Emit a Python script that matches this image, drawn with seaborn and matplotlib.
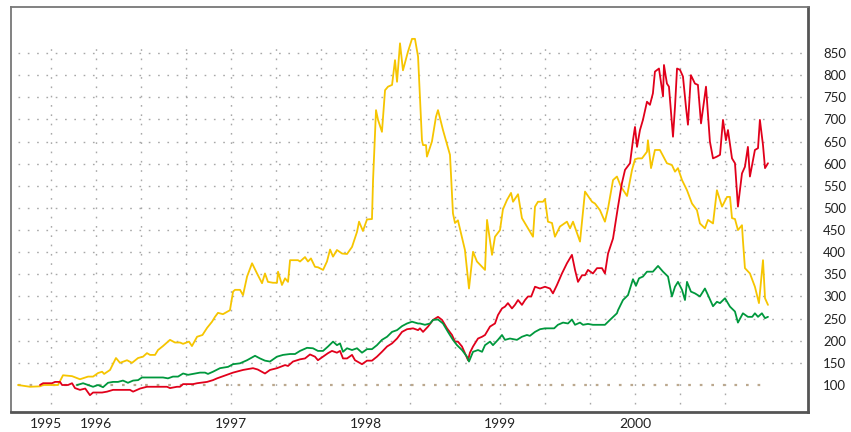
import numpy as np
import pandas as pd
import matplotlib
matplotlib.use('Agg')
import matplotlib.pyplot as plt
import seaborn as sns

# ### data (index, start = 100), x in fractional years
yellow_t = [1995.421, 1995.510, 1995.584, 1995.607, 1995.718, 1995.755, 1995.822, 1995.881, 1995.941, 1995.978,
            1996.015, 1996.045, 1996.060, 1996.104, 1996.148, 1996.178, 1996.230, 1996.267, 1996.312, 1996.349,
            1996.378, 1996.401, 1996.438, 1996.460, 1996.497, 1996.549, 1996.586, 1996.623, 1996.646, 1996.690,
            1996.712, 1996.750, 1996.790, 1996.824, 1996.861, 1996.883, 1996.905, 1996.942, 1996.994, 1997.017,
            1997.032, 1997.069, 1997.091, 1997.121, 1997.158, 1997.195, 1997.232, 1997.254, 1997.276, 1997.313,
            1997.343, 1997.351, 1997.380, 1997.403, 1997.425, 1997.440, 1997.499, 1997.514, 1997.551, 1997.573,
            1997.595, 1997.625, 1997.647, 1997.685, 1997.714, 1997.737, 1997.759, 1997.788, 1997.826, 1997.863,
            1997.900, 1997.937, 1997.952, 1997.981, 1998.011, 1998.048, 1998.056, 1998.078, 1998.093, 1998.122,
            1998.145, 1998.167, 1998.197, 1998.219, 1998.234, 1998.256, 1998.278, 1998.315, 1998.345, 1998.367,
            1998.390, 1998.419, 1998.427, 1998.449, 1998.456, 1998.493, 1998.523, 1998.538, 1998.575, 1998.627,
            1998.649, 1998.664, 1998.686, 1998.738, 1998.768, 1998.798, 1998.827, 1998.887, 1998.902, 1998.939,
            1998.961, 1998.998, 1999.020, 1999.050, 1999.080, 1999.095, 1999.132, 1999.161, 1999.198, 1999.243,
            1999.258, 1999.280, 1999.317, 1999.332, 1999.354, 1999.384, 1999.406, 1999.443, 1999.495, 1999.518,
            1999.540, 1999.592, 1999.629, 1999.681, 1999.703, 1999.740, 1999.777, 1999.800, 1999.837, 1999.866,
            1999.896, 1999.941, 1999.978, 2000.000, 2000.022, 2000.052, 2000.089, 2000.096, 2000.119, 2000.148,
            2000.185, 2000.237, 2000.274, 2000.297, 2000.319, 2000.349, 2000.386, 2000.423, 2000.460, 2000.482,
            2000.519, 2000.542, 2000.579, 2000.608, 2000.646, 2000.683, 2000.705, 2000.720, 2000.742, 2000.764,
            2000.794, 2000.801, 2000.816, 2000.853, 2000.890, 2000.920, 2000.950, 2000.965, 2000.987]
yellow_v = [100, 96, 97, 100, 100, 122, 120, 113, 119, 119,
            127, 130, 125, 134, 161, 150, 156, 150, 161, 164,
            172, 168, 168, 179, 188, 202, 196, 196, 193, 198,
            188, 209, 213, 229, 243, 254, 263, 260, 269, 311,
            315, 315, 303, 345, 375, 352, 330, 352, 333, 331,
            331, 356, 326, 341, 333, 382, 382, 379, 389, 379,
            386, 367, 366, 360, 379, 406, 390, 405, 397, 396,
            412, 446, 469, 448, 474, 475, 563, 721, 699, 672,
            766, 774, 778, 834, 785, 872, 811, 853, 882, 882,
            842, 653, 642, 642, 616, 650, 706, 721, 676, 620,
            488, 466, 472, 405, 318, 401, 379, 360, 473, 394,
            435, 450, 497, 518, 534, 514, 531, 477, 458, 435,
            503, 514, 514, 520, 469, 466, 435, 458, 469, 454,
            469, 424, 537, 514, 510, 495, 469, 499, 563, 571,
            548, 527, 586, 610, 612, 612, 627, 653, 590, 631,
            631, 601, 597, 582, 590, 563, 540, 510, 495, 465,
            454, 473, 465, 540, 503, 525, 525, 477, 475, 450,
            461, 427, 364, 352, 322, 285, 382, 296, 281]

red_t = [1995.584, 1995.607, 1995.673, 1995.696, 1995.733, 1995.748, 1995.792, 1995.822, 1995.844, 1995.881,
         1995.920, 1995.955, 1995.978, 1996.045, 1996.082, 1996.126, 1996.178, 1996.252, 1996.275, 1996.327,
         1996.378, 1996.423, 1996.527, 1996.549, 1996.601, 1996.623, 1996.646, 1996.698, 1996.720, 1996.750,
         1996.775, 1996.824, 1996.868, 1996.898, 1996.972, 1997.017, 1997.091, 1997.165, 1997.200, 1997.254,
         1997.291, 1997.343, 1997.403, 1997.425, 1997.462, 1997.514, 1997.551, 1997.588, 1997.625, 1997.647,
         1997.685, 1997.722, 1997.751, 1997.788, 1997.811, 1997.833, 1997.863, 1997.900, 1997.922, 1997.974,
         1998.011, 1998.048, 1998.085, 1998.122, 1998.160, 1998.197, 1998.234, 1998.271, 1998.308, 1998.353,
         1998.390, 1998.404, 1998.427, 1998.464, 1998.501, 1998.538, 1998.568, 1998.605, 1998.642, 1998.664,
         1998.686, 1998.716, 1998.738, 1998.761, 1998.775, 1998.798, 1998.835, 1998.865, 1998.887, 1998.924,
         1998.961, 1998.983, 1999.013, 1999.035, 1999.057, 1999.087, 1999.109, 1999.132, 1999.161, 1999.184,
         1999.206, 1999.230, 1999.258, 1999.295, 1999.332, 1999.369, 1999.391, 1999.421, 1999.458, 1999.495,
         1999.532, 1999.555, 1999.577, 1999.607, 1999.629, 1999.651, 1999.688, 1999.718, 1999.755, 1999.777,
         1999.800, 1999.837, 1999.874, 1999.903, 1999.926, 1999.963, 1999.985, 2000.000, 2000.015, 2000.037,
         2000.059, 2000.089, 2000.111, 2000.133, 2000.148, 2000.178, 2000.208, 2000.215, 2000.237, 2000.252,
         2000.282, 2000.297, 2000.312, 2000.334, 2000.356, 2000.378, 2000.393, 2000.415, 2000.445, 2000.467,
         2000.490, 2000.527, 2000.556, 2000.579, 2000.608, 2000.631, 2000.653, 2000.675, 2000.690, 2000.720,
         2000.742, 2000.764, 2000.794, 2000.816, 2000.838, 2000.853, 2000.890, 2000.913, 2000.927, 2000.950,
         2000.965, 2000.987]
red_v = [100, 104, 104, 107, 107, 100, 100, 104, 93, 89,
         92, 77, 83, 83, 85, 89, 89, 89, 85, 92,
         96, 96, 96, 93, 96, 96, 102, 102, 102, 104,
         105, 107, 111, 115, 123, 128, 134, 138, 135, 126,
         134, 138, 145, 143, 153, 158, 160, 169, 164, 156,
         164, 172, 177, 173, 177, 160, 160, 168, 156, 147,
         155, 155, 164, 175, 187, 194, 205, 220, 226, 228,
         224, 228, 220, 232, 247, 254, 247, 228, 213, 198,
         198, 187, 172, 156, 173, 187, 205, 209, 213, 232,
         239, 258, 273, 277, 285, 273, 281, 292, 281, 292,
         300, 300, 322, 318, 322, 318, 307, 326, 352, 375,
         394, 360, 333, 348, 348, 360, 352, 364, 364, 352,
         397, 431, 503, 556, 586, 601, 653, 683, 638, 676,
         699, 740, 733, 759, 808, 815, 752, 823, 781, 774,
         661, 729, 815, 812, 797, 729, 688, 800, 781, 778,
         691, 774, 650, 612, 616, 620, 699, 653, 676, 612,
         601, 503, 578, 593, 638, 571, 631, 635, 699, 642,
         590, 601]

green_t = [1995.859, 1995.904, 1995.978, 1996.015, 1996.052, 1996.089, 1996.126, 1996.163, 1996.200, 1996.237,
           1996.275, 1996.312, 1996.341, 1996.401, 1996.497, 1996.534, 1996.571, 1996.609, 1996.646, 1996.683,
           1996.720, 1996.772, 1996.809, 1996.831, 1996.868, 1996.920, 1996.980, 1997.017, 1997.069, 1997.121,
           1997.180, 1997.217, 1997.254, 1997.291, 1997.343, 1997.388, 1997.440, 1997.477, 1997.514, 1997.566,
           1997.610, 1997.647, 1997.685, 1997.722, 1997.759, 1997.788, 1997.811, 1997.833, 1997.863, 1997.900,
           1997.937, 1997.974, 1998.011, 1998.048, 1998.085, 1998.122, 1998.160, 1998.197, 1998.234, 1998.271,
           1998.308, 1998.345, 1998.390, 1998.404, 1998.441, 1998.479, 1998.501, 1998.538, 1998.575, 1998.612,
           1998.649, 1998.679, 1998.716, 1998.753, 1998.768, 1998.798, 1998.835, 1998.865, 1998.887, 1998.924,
           1998.946, 1998.983, 1999.013, 1999.035, 1999.072, 1999.124, 1999.161, 1999.198, 1999.220, 1999.258,
           1999.295, 1999.332, 1999.369, 1999.400, 1999.428, 1999.466, 1999.503, 1999.532, 1999.555, 1999.592,
           1999.614, 1999.651, 1999.688, 1999.740, 1999.777, 1999.814, 1999.866, 1999.874, 1999.911, 1999.948,
           1999.985, 2000.007, 2000.030, 2000.059, 2000.089, 2000.133, 2000.171, 2000.208, 2000.245, 2000.274,
           2000.297, 2000.319, 2000.349, 2000.371, 2000.386, 2000.415, 2000.445, 2000.482, 2000.519, 2000.542,
           2000.579, 2000.608, 2000.631, 2000.668, 2000.705, 2000.742, 2000.764, 2000.801, 2000.838, 2000.870,
           2000.890, 2000.913, 2000.942, 2000.965, 2000.987]
green_v = [100, 104, 96, 100, 95, 105, 107, 107, 110, 105,
           110, 111, 117, 117, 117, 115, 119, 119, 126, 123,
           125, 128, 128, 125, 130, 138, 141, 147, 149, 156,
           166, 160, 155, 153, 164, 168, 170, 170, 177, 184,
           183, 177, 177, 187, 198, 190, 194, 175, 183, 179,
           183, 173, 181, 181, 190, 202, 209, 220, 224, 233,
           239, 243, 239, 239, 236, 239, 247, 248, 239, 220,
           202, 190, 179, 164, 153, 175, 179, 175, 190, 198,
           190, 202, 213, 202, 205, 202, 209, 213, 211, 220,
           226, 228, 228, 228, 236, 241, 239, 248, 236, 241,
           236, 238, 236, 236, 236, 247, 262, 269, 292, 303,
           339, 324, 341, 345, 356, 356, 369, 356, 345, 300,
           322, 333, 315, 292, 333, 311, 307, 300, 318, 303,
           278, 288, 285, 296, 277, 266, 241, 262, 254, 254,
           262, 254, 262, 251, 254]

year_ticks = [1995.63, 1996.0, 1997.0, 1998.0, 1999.0, 2000.0]
year_labels = ['1995', '1996', '1997', '1998', '1999', '2000']
value_ticks = list(range(100, 851, 50))

series_colors = {'yellow': '#f6c500', 'red': '#e1001b', 'green': '#00983d'}

df = pd.concat([
    pd.DataFrame({'t': yellow_t, 'v': yellow_v, 'series': 'yellow'}),
    pd.DataFrame({'t': red_t, 'v': red_v, 'series': 'red'}),
    pd.DataFrame({'t': green_t, 'v': green_v, 'series': 'green'}),
])

sns.set_style('white')
plt.rcParams['font.family'] = ['Lato', 'DejaVu Sans']

fig = plt.figure(figsize=(8.51, 4.32), dpi=100)
ax = fig.add_axes([11/851, 1 - 412/432, (808 - 11)/851, (412 - 7)/432])

x0, x1 = 1995.369, 2001.284
ax.set_xlim(x0, x1)
ax.set_ylim(39, 954)

# dotted grid, not running to the frame
grid_kw = dict(color='#a8a8a8', lw=1.0, linestyle=(0, (1.2, 5.5)), zorder=0)
ax.hlines(value_ticks[1:], 1995.421, 2001.239, **grid_kw)
ax.vlines(np.arange(1995 + 2/3, 2000.8, 1/3), 57, 861, **grid_kw)
ax.hlines(100, yellow_t[0], yellow_t[-1], color='#bba88e', lw=1.6,
          linestyle=(0, (1.2, 4)), zorder=1)

sns.lineplot(data=df, x='t', y='v', hue='series', palette=series_colors,
             estimator=None, sort=True, legend=False, lw=1.3, ax=ax, zorder=3)

ax.set_xlabel('')
ax.set_ylabel('')
ax.set_xticks(year_ticks)
ax.set_xticklabels(year_labels, fontsize=10, color='#222222')
ax.yaxis.tick_right()
ax.set_yticks(value_ticks)
ax.set_yticklabels([str(v) for v in value_ticks], fontsize=9.5, color='#222222')
ax.tick_params(axis='x', length=0, pad=4)
ax.tick_params(axis='y', length=0, pad=11)

for side in ['left', 'top']:
    ax.spines[side].set_color('#777777')
    ax.spines[side].set_linewidth(1.3)
for side in ['right', 'bottom']:
    ax.spines[side].set_color('#555555')
    ax.spines[side].set_linewidth(2)

fig.savefig('out.png', dpi=100, facecolor='white')
